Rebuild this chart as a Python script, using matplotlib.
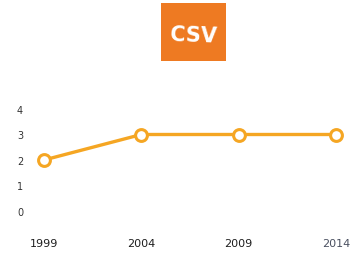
import matplotlib
matplotlib.use("Agg")
import matplotlib.pyplot as plt
import matplotlib.patches as mpatches

# -- data ----------------------------------------------------------------------
years = [1999, 2004, 2009, 2014]
values = [2, 3, 3, 3]
y_ticks = [0, 1, 2, 3, 4]
badge_label = "CSV"

LINE = "#F5A623"
BADGE = "#EE7A22"

W, H = 353, 255
fig = plt.figure(figsize=(W / 100, H / 100), dpi=100)
fig.patch.set_facecolor("white")

# axes box in pixel terms: left 30, right 350, top 100, bottom 220
ax = fig.add_axes([30 / W, (H - 220) / H, 320 / W, 120 / H])
ax.set_facecolor("none")

ax.plot(years, values, color=LINE, linewidth=2.4, zorder=2,
        marker="o", markersize=8.5, markerfacecolor="white",
        markeredgecolor=LINE, markeredgewidth=2.2)

px_per_year = (336 - 44) / (years[-1] - years[0])
ax.set_xlim(years[0] - 14 / px_per_year, years[-1] + 14 / px_per_year)
px_per_unit = (212 - 110) / 4
ax.set_ylim(-8 / px_per_unit, 4 + 10 / px_per_unit)

ax.set_xticks(years)
ax.set_xticklabels([str(y) for y in years], fontsize=8, color="#1e1e1e")
ax.get_xticklabels()[-1].set_color("#4a5060")
ax.set_yticks(y_ticks)
ax.set_yticklabels([str(v) for v in y_ticks], fontsize=7, color="#333333")
ax.tick_params(axis="x", length=0, pad=14)
ax.tick_params(axis="y", length=0, pad=5)
for spine in ax.spines.values():
    spine.set_visible(False)

# -- orange CSV badge ------------------------------------------------------------
bx0, by0, bw, bh = 161, 4, 65, 58
badge = mpatches.Rectangle((bx0 / W, 1 - (by0 + bh) / H), bw / W, bh / H,
                           transform=fig.transFigure, facecolor=BADGE,
                           edgecolor="none", zorder=1)
fig.patches.append(badge)
fig.text((bx0 + bw / 2) / W, 1 - (by0 + bh / 2 + 3) / H, badge_label,
         color="white", fontsize=15, fontweight="bold",
         ha="center", va="center", rotation=-2)

fig.savefig("out.png", dpi=100, facecolor="white")
